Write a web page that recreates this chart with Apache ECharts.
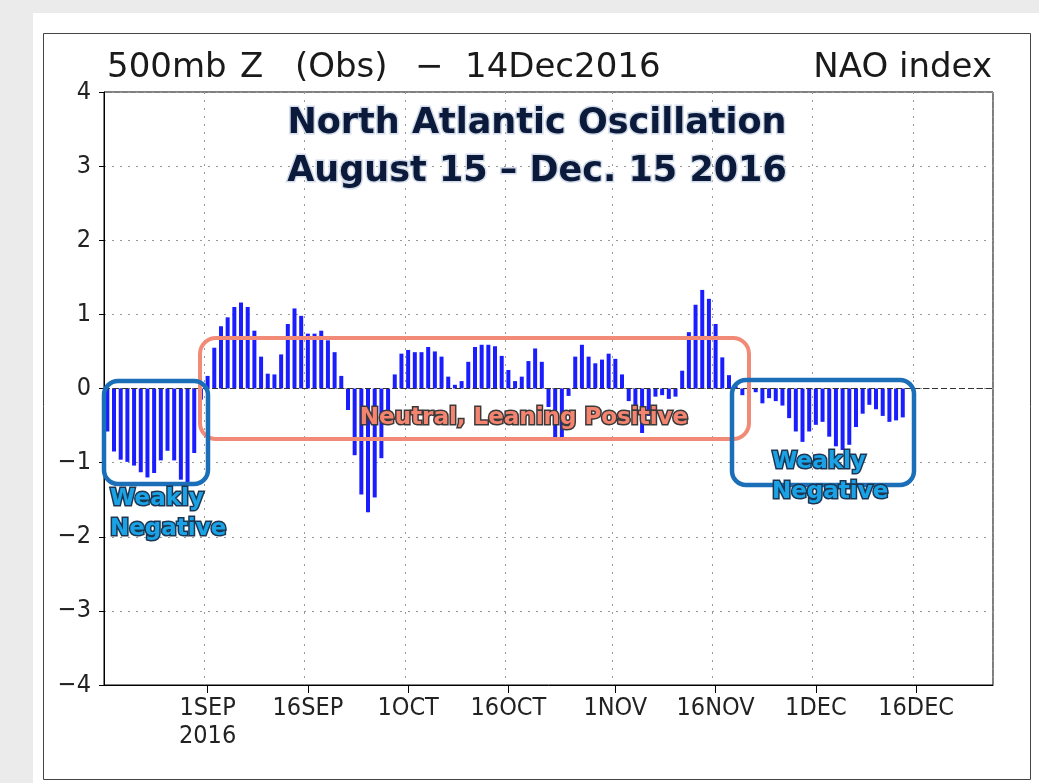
<!DOCTYPE html>
<html><head><meta charset="utf-8">
<script src="https://cdn.jsdelivr.net/npm/echarts@6/dist/echarts.min.js"></script>
<style>html,body{margin:0;padding:0;background:#ebebeb}#c{width:1039px;height:783px}</style>
</head><body><div id="c"></div>
<script>
// ---------- data ----------
const startDate = '2016-08-17';
const endDate = '2016-12-27';
// daily NAO index, 17 Aug 2016 .. 14 Dec 2016
const naoAug = [-0.58, -0.85, -0.96, -0.99, -1.04, -1.13, -1.20, -1.14, -0.97, -0.84, -0.97, -1.23, -1.28, -0.87, -0.15];
const naoSep = [0.17, 0.55, 0.84, 0.96, 1.10, 1.16, 1.10, 0.78, 0.43, 0.20, 0.19, 0.46, 0.87, 1.08, 0.98, 0.74, 0.74, 0.78, 0.65, 0.49, 0.17,
                -0.29, -0.90, -1.43, -1.67, -1.47, -0.94, -0.35, 0.19, 0.47];
const naoOct = [0.52, 0.49, 0.49, 0.56, 0.50, 0.43, 0.16, 0.05, 0.10, 0.36, 0.56, 0.59, 0.59, 0.57, 0.44, 0.25, 0.10, 0.16, 0.37, 0.54, 0.36,
                -0.25, -0.66, -0.67, -0.10, 0.43, 0.59, 0.43, 0.34, 0.39, 0.47];
const naoNov = [0.40, 0.19, -0.17, -0.36, -0.60, -0.37, -0.11, -0.09, -0.14, -0.11, 0.24, 0.76, 1.13, 1.33, 1.21, 0.87, 0.42, 0.18, 0.03,
                -0.09, -0.27, -0.05, -0.20, -0.13, -0.17, -0.23, -0.40, -0.58, -0.72, -0.58];
const naoDec = [-0.49, -0.45, -0.65, -0.78, -0.83, -0.76, -0.52, -0.34, -0.22, -0.28, -0.37, -0.45, -0.43, -0.39];
const tickLabels = {
  '2016-09-01': '1SEP\n2016', '2016-09-16': '16SEP', '2016-10-01': '1OCT', '2016-10-16': '16OCT',
  '2016-11-01': '1NOV', '2016-11-16': '16NOV', '2016-12-01': '1DEC', '2016-12-16': '16DEC'
};
const headerLeft = ['500mb', 'Z', '(Obs)', '\u2212', '14Dec2016'];
const headerRight = 'NAO index';
const titleLines = ['North Atlantic Oscillation', 'August 15 \u2013 Dec. 15 2016'];
const noteNeutral = 'Neutral, Leaning Positive';
const noteWeak = ['Weakly', 'Negative'];

// ---------- build ----------
const categories = [];
for (let d = new Date(startDate + 'T00:00:00Z'); d <= new Date(endDate + 'T00:00:00Z'); d.setUTCDate(d.getUTCDate() + 1)) {
  categories.push(d.toISOString().slice(0, 10));
}
const naoValues = [].concat(naoAug, naoSep, naoOct, naoNov, naoDec);

const axisFont = '"Liberation Sans Narrow","DejaVu Sans Condensed","Liberation Sans",sans-serif';
const isTick = (i, v) => Object.prototype.hasOwnProperty.call(tickLabels, v);

function outlined(x, y, text, font, fill, stroke, lw, align, z) {
  const base = {type: 'text', x: x, y: y, z: z, silent: true};
  return [
    Object.assign({}, base, {style: {text: text, font: font, fill: stroke, stroke: stroke, lineWidth: lw,
      align: align, verticalAlign: 'middle', textAlign: align, textVerticalAlign: 'middle'}}),
    Object.assign({}, base, {z: z + 1, style: {text: text, font: font, fill: fill,
      align: align, verticalAlign: 'middle', textAlign: align, textVerticalAlign: 'middle'}})
  ];
}
function plain(x, y, text, font, fill, align) {
  return {type: 'text', x: x, y: y, z: 40, silent: true,
    style: {text: text, font: font, fill: fill, align: align, verticalAlign: 'middle', textAlign: align, textVerticalAlign: 'middle'}};
}

const headFont = '34px "DejaVu Sans",sans-serif';
const headX = [107, 240, 295, 415, 465];
const graphic = [
  {type: 'rect', z: -100, silent: true, shape: {x: 33, y: 13, width: 1006, height: 770}, style: {fill: '#ffffff'}},
  {type: 'rect', z: -90, silent: true, shape: {x: 43.5, y: 33.5, width: 987, height: 746}, style: {fill: 'none', stroke: '#444', lineWidth: 1}},
  plain(992, 68, headerRight, headFont, '#1a1a1a', 'right')
];
headerLeft.forEach((t, i) => graphic.push(plain(headX[i], 68, t, headFont, '#1a1a1a', 'left')));

const titleFont = 'bold 35px "DejaVu Sans",Verdana,sans-serif';
graphic.push(...outlined(537, 124, titleLines[0], titleFont, '#0b1a3a', '#d3dcea', 3, 'center', 50));
graphic.push(...outlined(537, 172, titleLines[1], titleFont, '#0b1a3a', '#d3dcea', 3, 'center', 50));

// annotation boxes
graphic.push({type: 'rect', z: 60, silent: true, shape: {x: 200, y: 338, width: 549, height: 101, r: 16},
  style: {fill: 'none', stroke: '#f28a78', lineWidth: 4}});
graphic.push({type: 'rect', z: 60, silent: true, shape: {x: 104, y: 381, width: 104, height: 103, r: 14},
  style: {fill: 'none', stroke: '#1a6fb8', lineWidth: 4.5}});
graphic.push({type: 'rect', z: 60, silent: true, shape: {x: 732, y: 380, width: 182, height: 105, r: 14},
  style: {fill: 'none', stroke: '#1a6fb8', lineWidth: 4.5}});

const noteFont = 'bold 23px "DejaVu Sans",Verdana,sans-serif';
graphic.push(...outlined(524, 418, noteNeutral, noteFont, '#f4846f', '#3a3a3a', 3, 'center', 70));
graphic.push(...outlined(110, 499, noteWeak[0], noteFont, '#1aa2e6', '#1d3550', 3, 'left', 70));
graphic.push(...outlined(110, 529, noteWeak[1], noteFont, '#1aa2e6', '#1d3550', 3, 'left', 70));
graphic.push(...outlined(772, 462, noteWeak[0], noteFont, '#1aa2e6', '#1d3550', 3, 'left', 70));
graphic.push(...outlined(772, 492, noteWeak[1], noteFont, '#1aa2e6', '#1d3550', 3, 'left', 70));

const option = {
  backgroundColor: '#ebebeb',
  animation: false,
  grid: {left: 104, top: 92, width: 889, height: 593, show: true, borderColor: '#000', borderWidth: 1, backgroundColor: '#fff'},
  xAxis: {
    type: 'category', data: categories, boundaryGap: true,
    axisLine: {show: true, onZero: false, lineStyle: {color: '#000', width: 1}},
    axisTick: {show: true, interval: isTick, alignWithLabel: true, length: 8, lineStyle: {color: '#000'}},
    axisLabel: {interval: isTick, formatter: v => tickLabels[v] || '', fontFamily: axisFont, fontSize: 25,
      color: '#222', margin: 9, lineHeight: 28},
    splitLine: {show: true, interval: isTick, lineStyle: {type: [2, 6], color: '#999', width: 1}}
  },
  yAxis: {
    type: 'value', min: -4, max: 4, interval: 1,
    axisLine: {show: true, lineStyle: {color: '#000'}},
    axisTick: {show: true, length: 5, lineStyle: {color: '#000'}},
    axisLabel: {formatter: v => (v < 0 ? '\u2212' + (-v) : String(v)), fontFamily: axisFont, fontSize: 25, color: '#222', margin: 13},
    splitLine: {show: true, lineStyle: {type: [2, 6], color: '#999', width: 1}}
  },
  series: [{
    type: 'bar', data: naoValues, barWidth: 4, itemStyle: {color: '#1a1eff'},
    markLine: {silent: true, symbol: 'none', label: {show: false},
      lineStyle: {color: '#333', type: [6, 3], width: 1}, data: [{yAxis: 0}]}
  }],
  graphic: graphic
};
const chart = echarts.init(document.getElementById('c'), null, {renderer: 'canvas'});
chart.setOption(option);
</script></body></html>
